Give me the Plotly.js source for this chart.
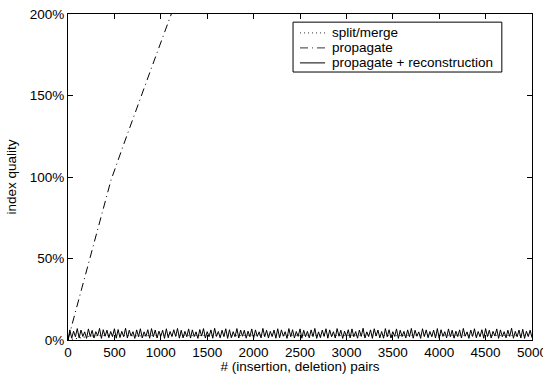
<!DOCTYPE html>
<html>
<head>
<meta charset="utf-8">
<script src="https://cdn.plot.ly/plotly-3.0.1.min.js"></script>
<style>html,body{margin:0;padding:0;background:#fff;}#chart{width:543px;height:374px;}</style>
</head>
<body>
<div id="chart"></div>
<script>
// x positions: number of (insertion, deletion) pairs
const propagateX = [0, 30, 65, 150, 250, 350, 463, 600, 750, 900, 1100, 1160];
const propagateY = [0, 6, 14, 32, 53, 74, 98, 120, 143, 167, 198, 207];

const splitMergeX = [0, 250, 500, 750, 1000, 1250, 1500, 1750, 2000, 2250, 2500, 2750, 3000, 3250, 3500, 3750, 4000, 4250, 4500, 4750, 5000];
const splitMergeY = [0, 2.5, 3, 2.5, 3, 2.8, 3, 2.6, 3, 2.9, 2.7, 3, 2.8, 3, 2.6, 3, 2.9, 2.7, 3, 2.8, 3];

const reconStep = 20;
const reconY = [
0,6.2,1.1,5.4,2.0,7.0,1.3,6.1,2.2,5.0,1.0,6.8,2.1,5.9,1.2,5.1,2.6,7.1,1.0,6.3,
2.3,6.0,1.4,5.2,2.1,6.9,1.1,6.4,1.5,5.3,2.0,7.2,1.2,6.0,2.4,5.1,1.0,6.2,2.0,6.9,
1.3,5.0,2.2,6.3,1.1,7.0,2.0,6.1,1.2,5.4,2.3,6.0,1.0,6.9,1.4,5.2,2.1,6.3,2.2,7.1,
1.1,6.0,1.3,5.3,2.0,6.8,1.2,6.2,2.1,5.0,1.0,6.4,2.4,7.0,1.2,5.1,2.0,6.2,1.1,7.2,
2.2,5.2,1.3,6.0,2.1,6.9,1.0,6.3,1.4,5.1,2.0,7.0,1.2,6.1,2.3,6.0,1.1,5.4,2.0,6.8,
1.0,6.2,2.2,5.0,1.3,7.1,2.0,6.0,1.2,5.3,2.1,6.1,1.1,6.9,1.4,6.2,2.3,5.1,1.0,7.0,
2.0,6.3,1.2,5.2,2.2,6.8,1.1,6.0,2.0,5.3,1.3,6.2,2.1,7.1,1.0,5.0,1.4,6.1,2.2,6.9,
1.1,6.2,2.0,5.1,1.2,7.0,2.3,6.0,1.0,5.4,2.1,6.3,1.3,6.8,2.0,5.2,1.1,6.1,2.2,7.2,
1.2,5.0,2.1,6.2,1.0,6.9,2.4,6.1,1.3,5.2,1.1,7.0,2.0,6.3,1.2,5.1,2.2,6.8,1.0,6.0,
2.1,5.3,1.2,6.2,2.0,7.1,1.1,6.0,2.3,5.0,1.0,6.9,2.1,6.2,1.4,5.2,2.0,6.1,1.2,7.0,
1.0,6.3,2.2,5.1,1.3,6.8,2.0,6.0,1.1,5.4,2.1,6.2,1.2,7.1,2.3,5.0,1.0,6.1,2.2,6.9,
1.3,5.2,2.0,6.3,1.1,7.0,2.1,6.0,1.2,5.3,2.4,6.8,1.0,6.2,2.0,5.1,1.3,6.0,2.2,7.2,
1.1,5.3,2.0,6.1,1.2,6.6,1.0,5.4,2.1,6.0,1.4
];
const reconX = reconY.map((_, i) => i * reconStep);

const seriesNames = ['split/merge', 'propagate', 'propagate + reconstruction'];
const seriesDash = ['1px,3px', '8px,4px,1px,4px', 'solid'];

const xTicks = [0, 500, 1000, 1500, 2000, 2500, 3000, 3500, 4000, 4500, 5000];
const yTicks = [0, 50, 100, 150, 200];
const yTickText = ['0%', '50%', '100%', '150%', '200%'];

const font = {family: 'Liberation Sans, Arial, sans-serif', color: '#000'};
const fs = 13.5;

const xs = [splitMergeX, propagateX, reconX];
const ys = [splitMergeY, propagateY, reconY];
const traces = seriesNames.map((n, i) => ({
  x: xs[i], y: ys[i], name: n, mode: 'lines', showlegend: false,
  line: {color: '#000', width: 1, dash: seriesDash[i]}
}));

// compact legend box (paper coordinates)
const legBox = {x0: 0.485, x1: 0.935, y0: 0.822, y1: 0.975};
const rowY = [0.942, 0.896, 0.850];
const shapes = [{type: 'rect', xref: 'paper', yref: 'paper', layer: 'above',
  x0: legBox.x0, x1: legBox.x1, y0: legBox.y0, y1: legBox.y1,
  line: {color: '#000', width: 1}, fillcolor: '#fff'}];
const annotations = [];
seriesNames.forEach((n, i) => {
  shapes.push({type: 'line', xref: 'paper', yref: 'paper', layer: 'above',
    x0: 0.5, x1: 0.554, y0: rowY[i], y1: rowY[i],
    line: {color: i === 2 ? '#000' : '#333', width: 1, dash: seriesDash[i]}});
  annotations.push({xref: 'paper', yref: 'paper', x: 0.564, y: rowY[i],
    xanchor: 'left', yanchor: 'middle', showarrow: false, text: n,
    font: Object.assign({size: fs}, font)});
});

const layout = {
  width: 543, height: 374,
  margin: {l: 68, r: 11, t: 14, b: 34},
  paper_bgcolor: '#fff', plot_bgcolor: '#fff',
  font: Object.assign({size: fs}, font),
  showlegend: false,
  shapes: shapes, annotations: annotations,
  xaxis: {range: [0, 5000], tickvals: xTicks, ticktext: xTicks.map(String),
    ticks: 'inside', ticklen: 5, tickcolor: '#000', showline: true, linecolor: '#000',
    linewidth: 1, mirror: 'allticks', showgrid: false, zeroline: false,
    ticklabeloverflow: 'allow', automargin: false,
    tickfont: Object.assign({size: fs}, font),
    title: {text: '# (insertion, deletion) pairs', font: Object.assign({size: fs}, font), standoff: 1}},
  yaxis: {range: [0, 200], tickvals: yTicks, ticktext: yTickText,
    ticks: 'inside', ticklen: 5, tickcolor: '#000', showline: true, linecolor: '#000',
    linewidth: 1, mirror: 'allticks', showgrid: false, zeroline: false,
    automargin: false,
    tickfont: Object.assign({size: fs}, font),
    title: {text: 'index quality', font: Object.assign({size: fs}, font), standoff: 10}}
};

Plotly.newPlot('chart', traces, layout, {staticPlot: true, displayModeBar: false});
</script>
</body>
</html>
